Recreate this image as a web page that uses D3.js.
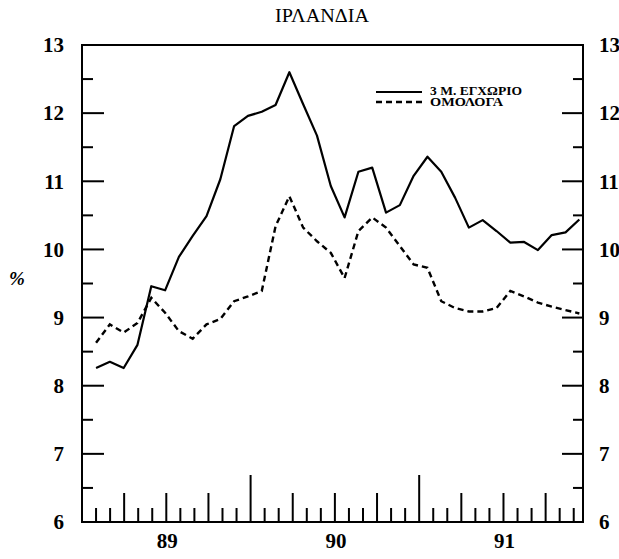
<!DOCTYPE html>
<html><head><meta charset="utf-8">
<script src="https://cdn.jsdelivr.net/npm/d3@7"></script>
<style>body{margin:0;background:#fff}svg{display:block}</style>
</head><body>
<script>
const title = "ΙΡΛΑΝΔΙΑ";
const seriesNames = ["3 M. ΕΓΧΩΡΙΟ", "ΟΜΟΛΟΓΑ"];
const deposit3m = [8.26, 8.35, 8.26, 8.60, 9.46, 9.40, 9.89, 10.20, 10.49, 11.03,
  11.81, 11.96, 12.02, 12.12, 12.60, 12.13, 11.67, 10.93, 10.47, 11.14,
  11.20, 10.54, 10.65, 11.08, 11.36, 11.14, 10.76, 10.32, 10.43, 10.27,
  10.10, 10.11, 9.99, 10.21, 10.25, 10.44];
const bonds = [8.63, 8.90, 8.78, 8.92, 9.29, 9.07, 8.80, 8.69, 8.90, 8.98,
  9.24, 9.31, 9.39, 10.34, 10.78, 10.32, 10.12, 9.95, 9.58, 10.27,
  10.47, 10.32, 10.05, 9.78, 9.73, 9.24, 9.14, 9.09, 9.09, 9.14,
  9.39, 9.31, 9.22, 9.16, 9.11, 9.06];
const yTicks = [6, 7, 8, 9, 10, 11, 12, 13];
const yearLabels = ["89", "90", "91"];   // centred on July of each year
const yearLabelMonths = [6, 18, 30];     // months from Jan 1989
const monthDomain = [0, 35.66];          // Jan 1989 .. late Dec 1991
const firstObs = 1.0, lastObs = 35.4;    // months of first/last observation

const W = 619, H = 559;
const L = 82, R = 583, T = 45, B = 522;
const svg = d3.select("body").append("svg").attr("width", W).attr("height", H);
const x = d3.scaleLinear().domain(monthDomain).range([L, R]);
const y = d3.scaleLinear().domain([6, 13]).range([B, T]);
const n = deposit3m.length;
const xi = d3.scaleLinear().domain([0, n - 1]).range([firstObs, lastObs]);

const font = "'Liberation Serif', 'Times New Roman', serif";

// frame
svg.append("rect").attr("x", L).attr("y", T).attr("width", R - L).attr("height", B - T)
  .attr("fill", "none").attr("stroke", "#000").attr("stroke-width", 2);

// y ticks (left, inward) and (right, inward)
const halfTicks = d3.range(6, 13.01, 0.5);
halfTicks.forEach(v => {
  const major = Math.abs(v - Math.round(v)) < 1e-6;
  svg.append("line").attr("x1", L).attr("x2", L + (major ? 22 : 11))
    .attr("y1", y(v)).attr("y2", y(v)).attr("stroke", "#000").attr("stroke-width", 2);
  svg.append("line").attr("x1", R).attr("x2", R - (major ? 21 : 10))
    .attr("y1", y(v)).attr("y2", y(v)).attr("stroke", "#000").attr("stroke-width", 2);
});
yTicks.forEach(v => {
  svg.append("text").attr("x", 64).attr("y", y(v)).attr("dy", "0.35em")
    .attr("text-anchor", "end").attr("font-family", font).attr("font-weight", "bold")
    .attr("font-size", 21).text(v);
  svg.append("text").attr("x", 599).attr("y", y(v)).attr("dy", "0.35em")
    .attr("text-anchor", "start").attr("font-family", font).attr("font-weight", "bold")
    .attr("font-size", 21).text(v);
});

// x ticks: monthly, quarterly, yearly
d3.range(1, Math.floor(monthDomain[1]) + 1).forEach(m => {
  const h = (m % 12 === 0) ? 47 : (m % 3 === 0 ? 29 : 14);
  svg.append("line").attr("x1", x(m)).attr("x2", x(m)).attr("y1", B).attr("y2", B - h)
    .attr("stroke", "#000").attr("stroke-width", 2);
});
yearLabels.forEach((t, i) => {
  svg.append("text").attr("x", x(yearLabelMonths[i]) + 1).attr("y", 548)
    .attr("text-anchor", "middle").attr("font-family", font).attr("font-weight", "bold")
    .attr("font-size", 21).text(t);
});

// title and % label
svg.append("text").attr("x", 275).attr("y", 22)
  .attr("font-family", font).attr("font-size", 18)
  .attr("textLength", 94).attr("lengthAdjust", "spacingAndGlyphs").text(title);
svg.append("text").attr("x", 17).attr("y", 285).attr("text-anchor", "middle")
  .attr("font-family", font).attr("font-weight", "bold").attr("font-style", "italic")
  .attr("font-size", 19).text("%");

// lines
const line = d3.line().x((d, i) => x(xi(i))).y(d => y(d));
svg.append("path").datum(deposit3m).attr("d", line).attr("fill", "none")
  .attr("stroke", "#000").attr("stroke-width", 2.2).attr("stroke-linejoin", "round");
svg.append("path").datum(bonds).attr("d", line).attr("fill", "none")
  .attr("stroke", "#000").attr("stroke-width", 2.4).attr("stroke-dasharray", "6,4");

// legend
const lg = svg.append("g");
lg.append("line").attr("x1", 376).attr("x2", 422).attr("y1", 92).attr("y2", 92)
  .attr("stroke", "#000").attr("stroke-width", 2.2);
lg.append("line").attr("x1", 376).attr("x2", 422).attr("y1", 102).attr("y2", 102)
  .attr("stroke", "#000").attr("stroke-width", 2.4).attr("stroke-dasharray", "6,4");
lg.append("text").attr("x", 430).attr("y", 91).attr("dy", "0.35em")
  .attr("font-family", font).attr("font-weight", "bold").attr("font-size", 11.5)
  .attr("textLength", 92).attr("lengthAdjust", "spacingAndGlyphs").text(seriesNames[0]);
lg.append("text").attr("x", 430).attr("y", 102).attr("dy", "0.35em")
  .attr("font-family", font).attr("font-weight", "bold").attr("font-size", 11.5)
  .attr("textLength", 73).attr("lengthAdjust", "spacingAndGlyphs").text(seriesNames[1]);
</script>
</body></html>
